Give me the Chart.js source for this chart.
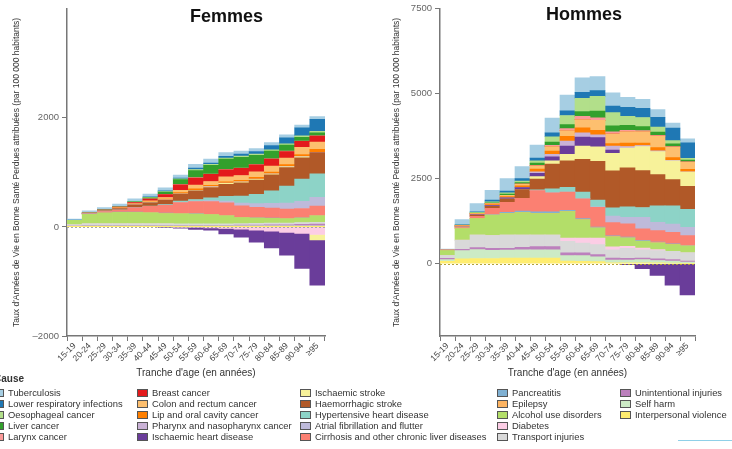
<!DOCTYPE html>
<html lang="fr">

<head>
    <meta charset="UTF-8">
    <title>Taux d'AVCI attribuables à l'alcool</title>
    <script src="https://cdn.jsdelivr.net/npm/chart.js"></script>
    <style>
        body {
            margin: 0;
            width: 732px;
            height: 449px;
            position: relative;
            overflow: hidden;
            background: #fff;
            font-family: 'Liberation Sans', Arial, sans-serif;
        }

        .panel {
            position: absolute;
            top: 0;
        }

        .titre {
            position: absolute;
            font-weight: bold;
            font-size: 18px;
            line-height: 18px;
            color: #111;
            white-space: nowrap;
        }

        #legende {
            position: absolute;
            left: 0;
            top: 0;
            width: 732px;
            height: 449px;
            pointer-events: none;
            font-size: 9.4px;
            color: #333;
        }

        .item {
            position: absolute;
            height: 11px;
            line-height: 11px;
            white-space: nowrap;
        }

        .item span.carre {
            position: absolute;
            left: 0;
            top: 1.5px;
            width: 9px;
            height: 6px;
            border: 1px solid #555;
        }

        .item span.nom {
            position: absolute;
            left: 15px;
            top: 0;
        }

        #cause {
            position: absolute;
            left: -6px;
            top: 373px;
            font-size: 10px;
            font-weight: bold;
            color: #333;
        }

        #trait {
            position: absolute;
            left: 678px;
            top: 440px;
            width: 54px;
            height: 1px;
            background: #8fd0e8;
        }
    </style>
</head>

<body>
    <canvas id="femmes" class="panel" width="340" height="386" style="left:0px"></canvas>
    <canvas id="hommes" class="panel" width="340" height="386" style="left:370px"></canvas>
    <div class="titre" style="left:190px; top:7px">Femmes</div>
    <div class="titre" style="left:546px; top:5px">Hommes</div>
    <div id="legende"><div id="cause">Cause</div></div>
    <div id="trait"></div>

    <script>
        // tranches d'âge (axe x)
        const ageGroups = ['15-19', '20-24', '25-29', '30-34', '35-39', '40-44', '45-49', '50-54', '55-59',
            '60-64', '65-69', '70-74', '75-79', '80-84', '85-89', '90-94', '≥95'];

        // causes, dans l'ordre de la légende (haut de la pile en premier)
        const causes = ['Tuberculosis', 'Lower respiratory infections', 'Oesophageal cancer', 'Liver cancer', 'Larynx cancer',
            'Breast cancer', 'Colon and rectum cancer', 'Lip and oral cavity cancer', 'Pharynx and nasopharynx cancer', 'Ischaemic heart disease',
            'Ischaemic stroke', 'Haemorrhagic stroke', 'Hypertensive heart disease', 'Atrial fibrillation and flutter', 'Cirrhosis and other chronic liver diseases',
            'Pancreatitis', 'Epilepsy', 'Alcohol use disorders', 'Diabetes', 'Transport injuries',
            'Unintentional injuries', 'Self harm', 'Interpersonal violence'];

        const causeColors = ['#a6cee3', '#1f78b4', '#b2df8a', '#33a02c', '#fb9a99',
            '#e31a1c', '#fdbf6f', '#ff7f00', '#cab2d6', '#6a3d9a',
            '#f7f29a', '#b15928', '#8dd3c7', '#bebada', '#fb8072',
            '#80b1d3', '#fdb462', '#b3de69', '#fccde5', '#d9d9d9',
            '#bc80bd', '#ccebc5', '#ffed6f'];

        const femmesTicks = [-2000, 0, 2000];
        const hommesTicks = [0, 2500, 5000, 7500];

        // Femmes : une ligne par cause (même ordre que causes)
        const femmesRates = [
            [15, 30, 35, 40, 45, 50, 55, 55, 70, 70, 70, 55, 55, 55, 55, 50, 50],
            [5, 5, 5, 5, 5, 10, 10, 15, 25, 25, 30, 40, 50, 80, 110, 150, 220],
            [0, 2, 3, 5, 5, 8, 10, 15, 20, 20, 20, 20, 20, 25, 25, 25, 30],
            [0, 2, 3, 5, 10, 20, 40, 90, 130, 160, 190, 200, 170, 140, 110, 70, 55],
            [0, 0, 0, 0, 2, 3, 5, 5, 5, 5, 5, 5, 5, 5, 5, 5, 5],
            [0, 2, 5, 10, 20, 35, 55, 100, 130, 130, 130, 130, 130, 130, 120, 110, 110],
            [0, 2, 5, 10, 15, 20, 30, 45, 70, 70, 90, 90, 100, 110, 120, 130, 130],
            [0, 2, 3, 5, 8, 10, 15, 20, 25, 25, 25, 25, 30, 30, 35, 40, 55],
            [0, 0, 2, 3, 4, 5, 5, 5, 5, 5, 5, 5, 5, 5, 5, 5, 5],
            [0, 0, 0, 0, 0, 0, -10, -20, -35, -40, -100, -150, -220, -305, -420, -640, -830],
            [0, 0, 0, 0, 0, 0, 0, 0, 5, 10, 15, 15, 15, 15, 15, 15, -100],
            [0, 5, 15, 25, 50, 60, 80, 130, 160, 190, 220, 240, 260, 290, 340, 390, 390],
            [0, 0, 0, 0, 0, 5, 10, 20, 30, 50, 90, 130, 170, 230, 310, 410, 430],
            [0, 0, 0, 0, 0, 0, 2, 5, 10, 20, 30, 50, 70, 90, 110, 130, 160],
            [0, 10, 20, 40, 80, 110, 145, 200, 220, 230, 230, 210, 190, 180, 170, 170, 170],
            [0, 2, 3, 3, 4, 5, 5, 5, 5, 5, 5, 5, 5, 5, 5, 5, 5],
            [0, 2, 2, 2, 2, 2, 2, 2, 2, 2, 2, 2, 3, 3, 3, 3, 3],
            [85, 175, 200, 210, 210, 205, 190, 185, 180, 170, 150, 110, 95, 85, 80, 80, 120],
            [0, 0, 0, 0, 0, 0, 0, -5, -10, -20, -30, -40, -60, -80, -100, -120, -140],
            [20, 25, 25, 25, 25, 25, 25, 25, 25, 25, 25, 25, 30, 30, 30, 35, 35],
            [5, 10, 10, 10, 10, 10, 10, 10, 10, 10, 10, 15, 15, 20, 20, 25, 30],
            [10, 15, 15, 15, 15, 15, 15, 15, 15, 15, 15, 15, 15, 15, 15, 15, 15],
            [2, 5, 5, 5, 5, 5, 5, 5, 5, 5, 5, 5, 5, 5, 5, 5, 5]
        ];

        // Hommes
        const hommesRates = [
            [10, 145, 240, 290, 370, 359, 388, 436, 465, 426, 417, 388, 291, 262, 223, 145, 116],
            [5, 15, 20, 50, 50, 68, 78, 116, 136, 174, 165, 194, 271, 271, 291, 368, 455],
            [0, 10, 20, 30, 40, 48, 68, 155, 271, 388, 436, 388, 262, 271, 145, 97, 58],
            [0, 5, 10, 20, 30, 39, 68, 97, 116, 145, 194, 174, 145, 116, 97, 78, 48],
            [0, 0, 0, 0, 0, 0, 10, 40, 58, 97, 78, 60, 40, 30, 20, 15, 10],
            [0, 0, 0, 0, 0, 0, 0, 0, 0, 0, 0, 0, 0, 0, 0, 0, 0],
            [5, 15, 20, 30, 40, 58, 97, 126, 165, 242, 291, 291, 339, 339, 339, 310, 213],
            [5, 15, 25, 30, 40, 48, 78, 97, 145, 145, 136, 70, 97, 68, 97, 78, 68],
            [0, 0, 0, 0, 0, 0, 48, 78, 145, 126, 78, 120, 50, 30, 20, 15, 10],
            [0, 0, 10, 20, 30, 58, 97, 116, 242, 262, 271, 97, -30, -145, -340, -630, -920],
            [0, 0, 0, 0, 0, 0, 68, 97, 194, 388, 426, 514, 581, 707, 678, 552, 417],
            [5, 20, 30, 60, 100, 262, 320, 727, 775, 969, 1143, 1085, 1143, 1085, 920, 775, 678],
            [0, 0, 0, 0, 0, 0, 20, 116, 145, 194, 194, 242, 310, 291, 484, 533, 533],
            [0, 0, 0, 0, 0, 0, 0, 0, 0, 0, 20, 194, 194, 339, 242, 242, 242],
            [5, 30, 60, 175, 290, 368, 630, 562, 533, 581, 581, 388, 388, 339, 339, 339, 290],
            [0, 0, 0, 20, 30, 39, 40, 40, 30, 30, 20, 20, 20, 20, 15, 15, 10],
            [5, 10, 10, 10, 10, 10, 10, 10, 10, 10, 10, 10, 10, 10, 10, 10, 10],
            [150, 340, 480, 600, 630, 659, 630, 630, 775, 533, 291, 291, 242, 194, 194, 194, 194],
            [0, 10, 0, 0, 0, 0, 0, 0, 97, 145, 194, 90, 60, 50, 30, 0, 0],
            [80, 260, 370, 370, 390, 359, 339, 339, 339, 291, 291, 240, 291, 242, 242, 242, 242],
            [40, 40, 60, 60, 50, 78, 97, 97, 80, 80, 70, 60, 50, 50, 50, 45, 30],
            [50, 240, 260, 240, 240, 242, 242, 242, 160, 170, 140, 80, 80, 90, 70, 60, 40],
            [70, 145, 155, 155, 165, 165, 165, 165, 80, 70, 60, 30, 30, 30, 25, 20, 10]
        ];

        const yTitle = "Taux d'Années de Vie en Bonne Santé Perdues attribuées (par 100 000 habitants)";
        const xTitle = "Tranche d'age (en années)";

        // ligne pointillée au niveau zéro
        const ligneZero = {
            id: 'ligneZero',
            afterDatasetsDraw(chart, args, opts) {
                const { ctx, chartArea, scales } = chart;
                const py = Math.round(scales.y.getPixelForValue(0)) + 0.5;
                ctx.save();
                ctx.strokeStyle = opts.color;
                ctx.lineWidth = 1;
                ctx.setLineDash(opts.dash);
                ctx.beginPath();
                ctx.moveTo(chartArea.left, py);
                ctx.lineTo(chartArea.right, py);
                ctx.stroke();
                ctx.restore();
            }
        };

        function dessiner(id, rates, yMin, yMax, tickValues, yWidth, titlePad, zeroColor) {
            // la première série est posée contre l'axe zéro : on inverse l'ordre de la légende
            const datasets = causes.map((c, i) => ({
                label: c,
                data: rates[i],
                backgroundColor: causeColors[i],
                borderWidth: 0,
                barPercentage: 1,
                categoryPercentage: 1,
                stack: 'pile'
            })).reverse();

            return new Chart(document.getElementById(id), {
                type: 'bar',
                data: { labels: ageGroups, datasets: datasets },
                plugins: [ligneZero],
                options: {
                    responsive: false,
                    animation: false,
                    devicePixelRatio: 1,
                    layout: { padding: { top: 4, right: 340 - 325, left: 0, bottom: 0 } },
                    plugins: {
                        legend: { display: false },
                        tooltip: { enabled: false },
                        ligneZero: { color: zeroColor, dash: [2, 2] }
                    },
                    scales: {
                        x: {
                            stacked: true,
                            grid: { drawOnChartArea: false, tickLength: 5, color: '#777', offset: true },
                            border: { color: '#777', width: 1.5 },
                            ticks: {
                                autoSkip: false, maxRotation: 45, minRotation: 45, padding: 0,
                                color: '#444', font: { family: 'Liberation Sans', size: 8.5 }
                            },
                            title: {
                                display: true, text: xTitle, color: '#333',
                                font: { family: 'Liberation Sans', size: 10 },
                                padding: { top: 0, bottom: 7 }
                            },
                            afterFit: s => { s.height = 50; }
                        },
                        y: {
                            stacked: true,
                            min: yMin,
                            max: yMax,
                            afterBuildTicks: s => { s.ticks = tickValues.map(v => ({ value: v })); },
                            grid: { drawOnChartArea: false, tickLength: 5, color: '#777' },
                            border: { color: '#777', width: 1.5 },
                            ticks: {
                                padding: 3, color: '#666',
                                font: { family: 'Liberation Sans', size: 9.5 },
                                callback: v => v < 0 ? '–' + Math.abs(v) : String(v)
                            },
                            title: {
                                display: true, text: yTitle, color: '#333',
                                font: { family: 'Liberation Sans', size: 8.5 },
                                padding: { top: titlePad, bottom: 0 }
                            },
                            afterFit: s => { s.width = yWidth; }
                        }
                    }
                }
            });
        }

        dessiner('femmes', femmesRates, -2000, 4000, femmesTicks, 67, 12, '#a8a8a8');
        dessiner('hommes', hommesRates, -2125, 7500, hommesTicks, 70, 22, '#b3a23a');

        // légende en 5 colonnes de 5 lignes
        const legende = document.getElementById('legende');
        const colX = [-7, 137, 300, 497, 620];
        causes.forEach((c, i) => {
            const el = document.createElement('div');
            el.className = 'item';
            el.style.left = colX[Math.floor(i / 5)] + 'px';
            el.style.top = (387 + (i % 5) * 11) + 'px';
            el.innerHTML = '<span class="carre" style="background:' + causeColors[i] + '"></span><span class="nom">' + c + '</span>';
            legende.appendChild(el);
        });
    </script>
</body>

</html>
